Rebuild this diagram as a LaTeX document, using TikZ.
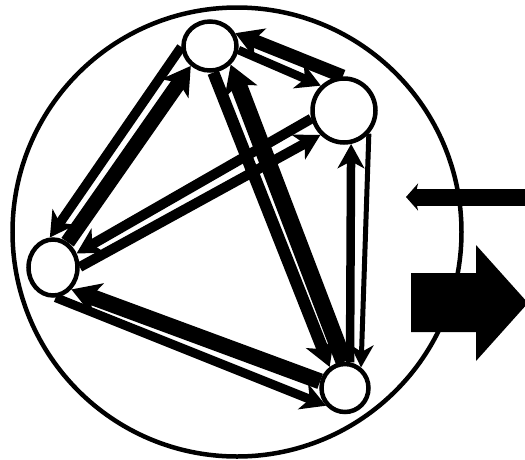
\documentclass[tikz,border=0pt]{standalone}
\usetikzlibrary{arrows.meta,shapes.geometric}
\pgfdeclarelayer{edgelayer}
\pgfsetlayers{edgelayer,main}
\begin{document}
\begin{tikzpicture}[x=1pt,y=-1pt,
  vert/.style={ellipse, draw, fill=white, line width=4.5pt, inner sep=0pt},
  flow/.style={-{Stealth[length=20pt 0.5, width=19pt 0.9, inset=7pt]}},
  frame/.style={circle, draw, line width=4.5pt, inner sep=0pt, minimum size=449pt}]
\useasboundingbox (0,0) rectangle (525,459);
\clip (0,0) rectangle (525,459);
\node[frame] (F) at (237,232) {};
\node[vert, minimum width=53pt, minimum height=49pt] (A) at (210,46) {};
\node[vert, minimum width=63pt, minimum height=64pt] (B) at (344,110.5) {};
\node[vert, minimum width=49pt, minimum height=56pt] (C) at (53,267.5) {};
\node[vert, minimum width=47pt, minimum height=48pt] (D) at (345,388) {};
\begin{pgfonlayer}{edgelayer}
\draw[flow, line width=13.5pt] (B.92) -- (A.27);
\draw[flow, line width=8.5pt] (A.-8) -- (B.133);
\draw[flow, line width=9.5pt] (A.182) -- (C.96);
\draw[flow, line width=15pt] (C.60) -- (A.226);
\draw[flow, line width=12pt] (A.-83) -- (D.126);
\draw[flow, line width=17pt] (D.92) -- (A.-42);
\draw[flow, line width=10pt] (B.194) -- (C.31);
\draw[flow, line width=10pt] (C.1) -- (B.226);
\draw[flow, line width=8.5pt] (D.79) -- (B.-78);
\draw[flow, line width=5pt] (B.-43) -- (D.52);
\draw[flow, line width=16pt] (D.165) -- (C.-50);
\draw[flow, line width=9pt] (C.-85) -- (D.223);
\end{pgfonlayer}
\coordinate (inR) at (530,197);
\coordinate (inL) at (406,197);
\draw[line width=17pt, -{Stealth[length=12pt, width=27pt, inset=3pt]}] (inR) -- (inL);
\fill (411,273) -- (476,273) -- (476,245) -- (528,303) -- (476,361) -- (476,332) -- (411,332) -- cycle;
\end{tikzpicture}
\end{document}
